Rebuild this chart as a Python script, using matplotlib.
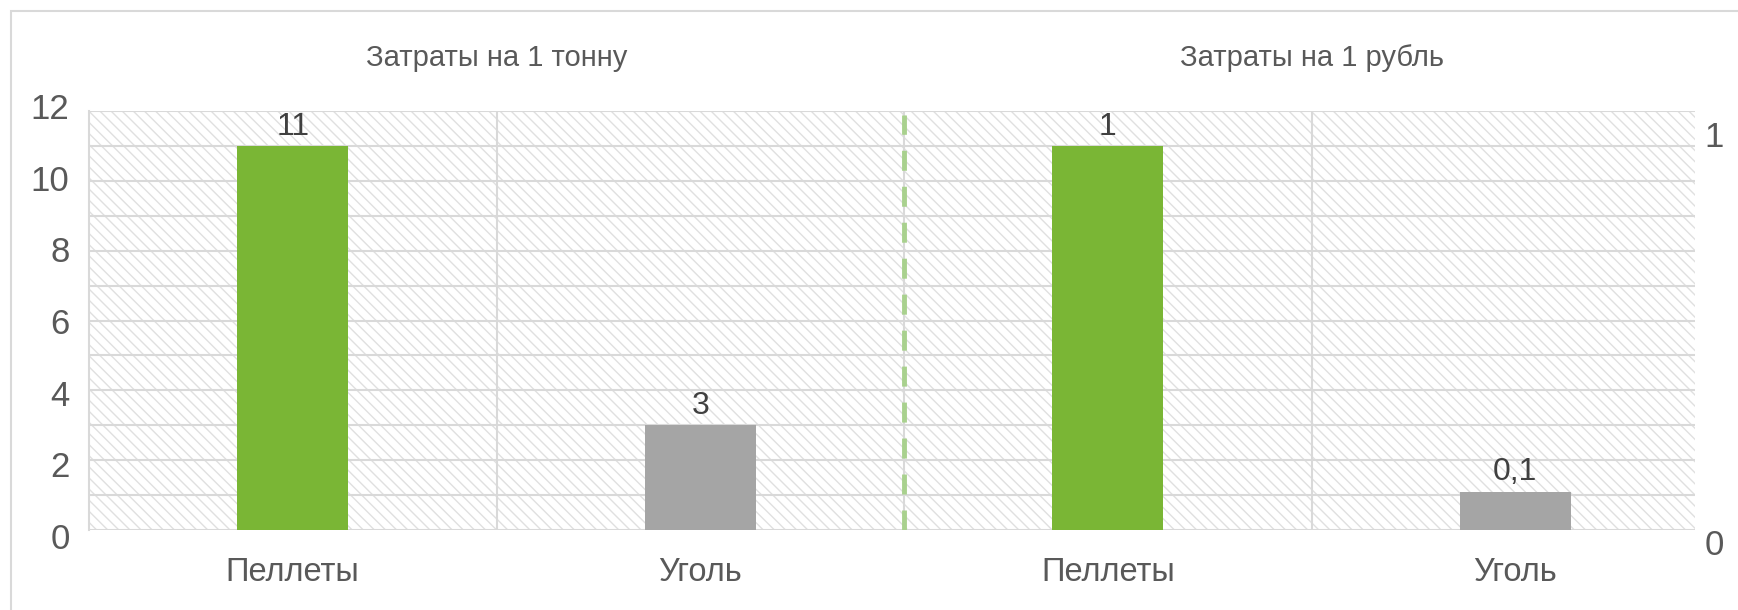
import matplotlib.pyplot as plt
import matplotlib.transforms as mtransforms
from matplotlib.patches import Rectangle

plt.rcParams['font.family'] = ['Liberation Sans', 'DejaVu Sans']
plt.rcParams['lines.scale_dashes'] = False
plt.rcParams['hatch.linewidth'] = 1.0

# data
categories = ['Пеллеты', 'Уголь', 'Пеллеты', 'Уголь']
group_titles = ['Затраты на 1 тонну', 'Затраты на 1 рубль']
per_ton = [11, 3]
per_rub = [1, 0.1]
left_ticks = [0, 2, 4, 6, 8, 10, 12]
right_ticks = [0, 1]

green = '#7ab635'
gray = '#a5a5a5'
grid_c = '#d9d9d9'
text_c = '#595959'
label_c = '#404040'


def fmt(v):
    return ('%g' % v).replace('.', ',')


def shift_labels(fig, axis, shifts):
    # Excel puts the axis labels a little off the gridlines
    for tick, dy in zip(axis.get_major_ticks(), shifts):
        for lab in (tick.label1, tick.label2):
            lab.set_transform(lab.get_transform() +
                              mtransforms.ScaledTranslation(0, dy / 100, fig.dpi_scale_trans))


def main():
    fig = plt.figure(figsize=(17.38, 6.10), dpi=100)
    # outer chart border
    fig.patches.append(Rectangle((11 / 1738, -0.1), 1.2, 1 - 11 / 610 + 0.1,
                                 transform=fig.transFigure, fill=False,
                                 edgecolor=grid_c, linewidth=1.5))

    ax = fig.add_axes([89 / 1738, 1 - 530 / 610, (1695 - 89) / 1738, (530 - 111) / 610])
    ax.set_xlim(-0.5, -0.5 + (1695 - 89) / 407.5)
    ax.set_ylim(0, 12)

    # hatched plot area
    ax.add_patch(Rectangle((0, 0), 1, 1, transform=ax.transAxes, facecolor='white',
                           edgecolor='#e0e0e0', linewidth=0, hatch='\\\\\\', zorder=0))

    for y in range(0, 13):
        ax.axhline(y, color=grid_c, linewidth=1.5, zorder=1)
    for x in [0.5, 1.5, 2.5]:
        ax.axvline(x, color=grid_c, linewidth=1.5, zorder=1)
    ax.axvline(1.5, ymin=0, ymax=0.99, color='#a9d18e', linewidth=3.5,
               dashes=(14.4, 11.5), zorder=2)

    xs = list(range(len(categories)))
    width = 111 / 407.5
    bars1 = ax.bar(xs[:2], per_ton, width=width, color=[green, gray], zorder=3)
    for b, v in zip(bars1, per_ton):
        ax.annotate(fmt(v), (b.get_x() + b.get_width() / 2, v), xytext=(0, 3),
                    textcoords='offset points', ha='center', va='bottom',
                    fontsize=23, color=label_c)

    ax2 = ax.twinx()
    ax2.set_ylim(0, 12 / 11)
    bars2 = ax2.bar(xs[2:], per_rub, width=width, color=[green, gray], zorder=3)
    for b, v in zip(bars2, per_rub):
        ax2.annotate(fmt(v), (b.get_x() + b.get_width() / 2, v), xytext=(0, 3),
                     textcoords='offset points', ha='center', va='bottom',
                     fontsize=23, color=label_c)

    ax.set_xticks(xs)
    ax.set_xticklabels(categories, fontsize=23.5, color=text_c)
    ax.tick_params(axis='x', length=0, pad=19.5)
    ax.set_yticks(left_ticks)
    ax.set_yticklabels([str(t) for t in left_ticks], fontsize=25, color=text_c)
    ax.tick_params(axis='y', length=0, pad=14)
    ax2.set_yticks(right_ticks)
    ax2.set_yticklabels([str(t) for t in right_ticks], fontsize=25, color=text_c)
    ax2.tick_params(axis='y', length=0, pad=7)

    shift_labels(fig, ax.yaxis, [-6 + t / 12 * 11 for t in left_ticks])
    shift_labels(fig, ax2.yaxis, [-12, 12])

    for a in (ax, ax2):
        for s in a.spines.values():
            s.set_visible(False)
    ax.spines['left'].set_visible(True)
    ax.spines['left'].set_color(grid_c)
    ax.spines['left'].set_linewidth(1.5)

    trans = mtransforms.blended_transform_factory(ax.transData, fig.transFigure)
    for x, t in zip([0.5, 2.5], group_titles):
        fig.text(x, 1 - 58 / 610, t, transform=trans, ha='center', va='center',
                 fontsize=21, color=text_c)

    fig.savefig('out.png', dpi=100)


if __name__ == "__main__":
    main()
